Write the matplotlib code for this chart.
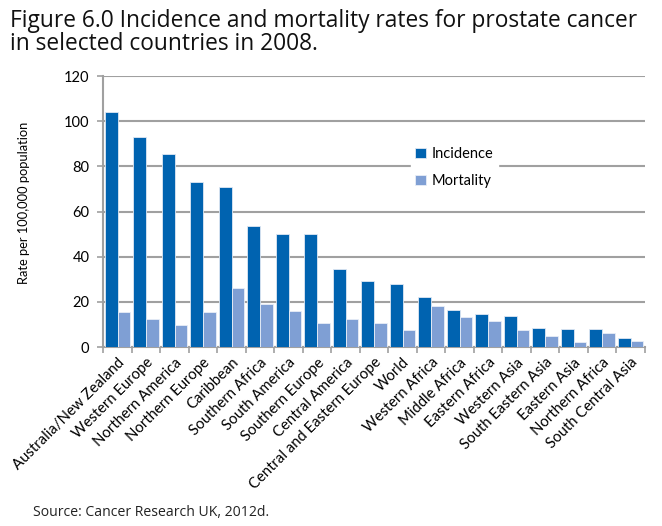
import numpy as np
import matplotlib.pyplot as plt
from matplotlib.ticker import FixedLocator

regions = ["Australia/New Zealand", "Western Europe", "Northern America",
           "Northern Europe", "Caribbean", "Southern Africa", "South America",
           "Southern Europe", "Central America", "Central and Eastern Europe",
           "World", "Western Africa", "Middle Africa", "Eastern Africa",
           "Western Asia", "South Eastern Asia", "Eastern Asia",
           "Northern Africa", "South Central Asia"]
incidence = [104.0, 93.1, 85.6, 73.0, 71.0, 53.8, 50.0, 50.0, 34.5, 29.1,
             28.0, 22.2, 16.4, 14.5, 13.8, 8.3, 8.2, 8.2, 4.2]
mortality = [15.4, 12.4, 9.9, 15.4, 26.1, 19.2, 16.1, 10.5, 12.5, 10.8,
             7.6, 18.2, 13.3, 11.6, 7.6, 5.0, 2.5, 6.2, 2.8]
y_ticks = [0, 20, 40, 60, 80, 100, 120]

c_inc = "#0063b0"
c_mort = "#7f9fd4"
grey = "#a0a0a0"

fig = plt.figure(figsize=(6.62, 5.26), dpi=100)
ax = fig.add_axes([0.156, 0.340, 0.818, 0.5155])

x = np.arange(len(regions))
w = 0.45
ax.bar(x - w / 2, incidence, w, color=c_inc, edgecolor="#dfe7f3", linewidth=0.6,
       label="Incidence", zorder=3)
ax.bar(x + w / 2, mortality, w, color=c_mort, edgecolor="#e8eef7", linewidth=0.6,
       label="Mortality", zorder=3)

ax.set_xlim(-0.5, len(regions) - 0.5)
ax.set_ylim(0, 120)
ax.set_yticks(y_ticks)
ax.yaxis.grid(True, color=grey, linewidth=1.5, zorder=0)
ax.set_axisbelow(True)

for side in ["top", "right"]:
    ax.spines[side].set_visible(False)
for side in ["left", "bottom"]:
    ax.spines[side].set_color(grey)
    ax.spines[side].set_linewidth(1.5)

ax.set_xticks(x)
ax.set_xticklabels(regions, rotation=45, ha="right", rotation_mode="anchor",
                   fontsize=10.7, family="Lato")
ax.tick_params(axis="x", which="major", length=0, pad=6)
ax.xaxis.set_minor_locator(FixedLocator(np.arange(-0.5, len(regions), 1)))
ax.tick_params(axis="x", which="minor", length=4, width=1.2, color=grey)
ax.tick_params(axis="y", length=4, width=1.2, color=grey, labelsize=10.5, pad=6)
for lab in ax.get_yticklabels():
    lab.set_family("Lato")

ax.set_ylabel("Rate per 100,000 population", fontsize=9.3, family="Lato")
ax.yaxis.set_label_coords(-0.135, 0.533)

leg = ax.legend(loc="upper left", bbox_to_anchor=(0.555, 0.78), frameon=True,
                prop={"family": "Lato", "size": 10.5},
                handlelength=0.7, handleheight=0.7, borderpad=0.3,
                labelspacing=0.9, handletextpad=0.4)
leg.get_frame().set_edgecolor("white")
leg.get_frame().set_facecolor("white")
leg.get_frame().set_alpha(1)
leg.set_zorder(5)

fig.text(0.015, 0.982, "Figure 6.0 Incidence and mortality rates for prostate cancer\n"
         "in selected countries in 2008.", ha="left", va="top",
         fontsize=16.4, family="Open Sans", linespacing=0.93, color="#111111")
fig.text(0.05, 0.012, "Source: Cancer Research UK, 2012d.", ha="left", va="bottom",
         fontsize=10.1, family="Open Sans", color="#222222")

fig.savefig("out.png", dpi=100)
